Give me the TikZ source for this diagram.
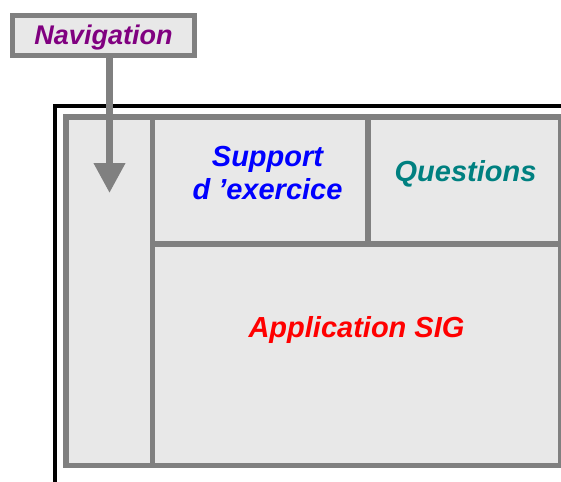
\documentclass[tikz,border=0pt]{standalone}
\usepackage{fontspec}
\setmainfont{Liberation Sans}
\usetikzlibrary{arrows.meta}

\definecolor{panefill}{HTML}{E8E8E8}
\definecolor{paneline}{HTML}{808080}
\definecolor{navpurple}{HTML}{800080}
\definecolor{qteal}{HTML}{008080}

\begin{document}
\begin{tikzpicture}[x=1pt,y=-1pt,%
    pane/.style={draw=paneline, fill=panefill, line width=5.5pt,%
    inner sep=0pt, rectangle},%
    label/.style={font=\fontsize{29}{33}\selectfont\bfseries\itshape,%
    inner sep=0pt, align=center},%
    navarrow/.style={draw=paneline, line width=7pt,%
    -{Triangle[width=30pt,length=30pt]}}]
  \clip (0,0) rectangle (561,481);
  % screen frame
  \draw[line width=4.5pt] (55,495) |- (575,106);
  % panes
  \node[pane, minimum width=86.5pt, minimum height=348.5pt]
      (navpane) at (109.25,291.25) {};
  \node[pane, minimum width=215.5pt, minimum height=127pt]
      (support) at (260.25,180.5) {};
  \node[pane, minimum width=193pt, minimum height=127pt]
      (questions) at (464.5,180.5) {};
  \node[pane, minimum width=408.5pt, minimum height=221.5pt]
      (appli) at (356.75,354.75) {};
  \node[label, text=blue] (supporttxt) at (267.5,173.5)
      {Support\\d ’exercice};
  \node[label, text=qteal, anchor=base] (questionstxt) at (465.5,181)
      {Questions};
  \node[label, text=red, anchor=base] (applitxt) at (356.5,337)
      {Application SIG};
  % menu
  \node[pane, line width=5pt, minimum width=182pt, minimum height=40pt,%
      text height=19pt, text depth=0pt, text=navpurple,%
      font=\fontsize{27}{30}\selectfont\bfseries\itshape]
      (nav) at (103.5,35.5) {Navigation};
  \coordinate (navtip) at (109.5,193);
  \draw[navarrow] (nav.south -| navtip) -- (navtip);
\end{tikzpicture}
\end{document}
